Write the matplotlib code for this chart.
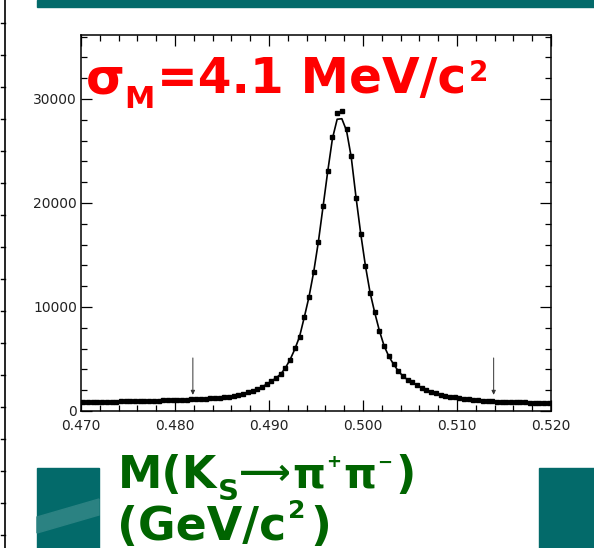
import matplotlib
matplotlib.use("Agg")
import matplotlib.pyplot as plt
from matplotlib.patches import Rectangle, Polygon
from matplotlib.lines import Line2D
from matplotlib.ticker import MultipleLocator

# ---------------- data ----------------
bin_lo = 0.470
bin_width = 0.0005
counts = [880, 870, 890, 880, 900, 890, 910, 900, 920, 930,
          920, 950, 960, 950, 980, 990, 1000, 1020, 1010, 1050,
          1060, 1080, 1100, 1120, 1140, 1160, 1190, 1210, 1240, 1270,
          1310, 1370, 1440, 1530, 1640, 1780, 1940, 2120, 2330, 2570,
          2860, 3180, 3550, 4150, 4950, 6030, 7090, 9010, 10930, 13340,
          16280, 19710, 23100, 26320, 28620, 28870, 27090, 24520, 20450, 17020,
          13970, 11370, 9490, 7690, 6250, 5300, 4550, 3850, 3350, 3000,
          2750, 2500, 2250, 2030, 1850, 1700, 1580, 1470, 1380, 1300,
          1230, 1170, 1120, 1080, 1040, 1000, 970, 940, 910, 890,
          870, 860, 840, 830, 820, 810, 800, 790, 790, 780]
fit = [880, 885, 890, 895, 900, 905, 910, 915, 920, 928,
       935, 945, 955, 965, 975, 985, 995, 1008, 1020, 1035,
       1050, 1065, 1080, 1100, 1120, 1145, 1170, 1200, 1230, 1265,
       1310, 1370, 1440, 1530, 1640, 1780, 1940, 2120, 2330, 2570,
       2860, 3180, 3550, 4150, 4950, 5950, 7150, 9000, 10950, 13350,
       16250, 19650, 23050, 26200, 28050, 28100, 26950, 24400, 20600, 17100,
       14000, 11400, 9450, 7700, 6250, 5250, 4500, 3850, 3350, 3000,
       2720, 2480, 2250, 2040, 1860, 1710, 1580, 1470, 1380, 1300,
       1230, 1170, 1120, 1075, 1035, 1000, 970, 945, 920, 900,
       880, 865, 850, 838, 826, 815, 805, 797, 790, 783]
arrow_x = [0.4819, 0.5139]
arrow_top = 5100
arrow_tip = 1550
xticks = [0.470, 0.480, 0.490, 0.500, 0.510, 0.520]
xticklabels = ["0.470", "0.480", "0.490", "0.500", "0.510", "0.520"]
yticks = [0, 10000, 20000, 30000]
yticklabels = ["0", "10000", "20000", "30000"]

centers = [bin_lo + bin_width * (i + 0.5) for i in range(len(counts))]

# ---------------- styling ----------------
FAM = ["DejaVu Sans", "Noto Sans", "DejaVu Sans Mono"]
plt.rcParams["font.family"] = FAM

W, H = 594, 548
fig = plt.figure(figsize=(W / 100, H / 100), dpi=100)
fig.patch.set_facecolor("white")

def fx(px):
    return px / W

def fy(py):
    return 1 - py / H

TEAL = "#036a6a"

# decorations (slide background pieces)
fig.patches.append(Rectangle((fx(37), fy(6.5)), 1 - fx(37), 6.5 / H,
                             transform=fig.transFigure, color=TEAL, zorder=0))
fig.patches.append(Rectangle((fx(37), 0), (99 - 37) / W, (548 - 468) / H,
                             transform=fig.transFigure, color=TEAL, zorder=0))
fig.patches.append(Polygon([(fx(37), fy(517)), (fx(99), fy(499)),
                            (fx(99), fy(515)), (fx(37), fy(533))],
                           closed=True, transform=fig.transFigure,
                           color="#2b8282", zorder=0.5))
fig.patches.append(Rectangle((fx(539), 0), (594 - 539) / W, (548 - 468) / H,
                             transform=fig.transFigure, color=TEAL, zorder=0))
fig.lines.append(Line2D([fx(4.5), fx(4.5)], [0, 1], transform=fig.transFigure,
                        color="black", lw=1.2))
for k in range(17):
    yy = 23 + 32 * k
    fig.lines.append(Line2D([fx(0.5), fx(4.5)], [fy(yy), fy(yy)],
                            transform=fig.transFigure, color="black", lw=1.0))

# ---------------- axes ----------------
ax = fig.add_axes([fx(81), fy(411), (551 - 81) / W, (411 - 35) / H])
ax.plot(centers, fit, color="black", lw=1.2, zorder=2)
ax.plot(centers, counts, ls="none", marker="s", ms=2.5, color="black",
        mec="black", zorder=3)
for xa in arrow_x:
    ax.annotate("", xy=(xa, arrow_tip), xytext=(xa, arrow_top),
                arrowprops=dict(arrowstyle="-|>,head_length=0.25,head_width=0.12",
                                color="#333333", lw=0.7, shrinkA=0, shrinkB=0))

ax.set_xlim(0.470, 0.520)
ax.set_ylim(0, 36150)
ax.set_xticks(xticks)
ax.set_xticklabels(xticklabels)
ax.set_yticks(yticks)
ax.set_yticklabels(yticklabels)
ax.xaxis.set_minor_locator(MultipleLocator(0.002))
ax.yaxis.set_minor_locator(MultipleLocator(2000))
ax.tick_params(which="both", direction="in", top=True, right=True,
               width=0.9, colors="black", labelcolor="#222222", labelsize=10)
ax.tick_params(which="major", length=8)
ax.tick_params(which="minor", length=4.5)
ax.tick_params(axis="x", which="major", pad=6)
ax.tick_params(axis="y", which="major", pad=3)
for s in ax.spines.values():
    s.set_linewidth(1.1)

# ---------------- texts (laid out piece by piece) ----------------
renderer = fig.canvas.get_renderer()

def piece(s, x_px, base_px, size, color):
    t = fig.text(fx(x_px), fy(base_px), s, color=color, fontsize=size,
                 fontweight="bold", ha="left", va="baseline", family=FAM)
    bb = t.get_window_extent(renderer)
    return bb.x1

RED = "#ff0000"
x = piece("σ", 86, 93, 36, RED)
x = piece("M", x - 1, 108, 22, RED)
x = piece("=4.1 MeV/c", x + 3, 93, 35, RED)
x = piece("2", x + 2, 81, 20, RED)

GREEN = "#006400"
x = piece("M(K", 118, 488, 32, GREEN)
x = piece("S", x + 1, 500, 21, GREEN)
x = piece("⟶", x, 484, 26, GREEN)
x = piece("π", x + 1, 488, 30, GREEN)
x = piece("+", x + 1, 467, 13, GREEN)
x = piece("π", x + 2, 488, 30, GREEN)
x = piece("−", x + 1, 468, 13, GREEN)
x = piece(")", x + 3, 488, 32, GREEN)

x = piece("(GeV/c", 117, 540, 33, GREEN)
x = piece("2", x + 2, 518, 18, GREEN)
x = piece(")", x + 5, 540, 33, GREEN)

fig.savefig("out.png", dpi=100, facecolor="white")
